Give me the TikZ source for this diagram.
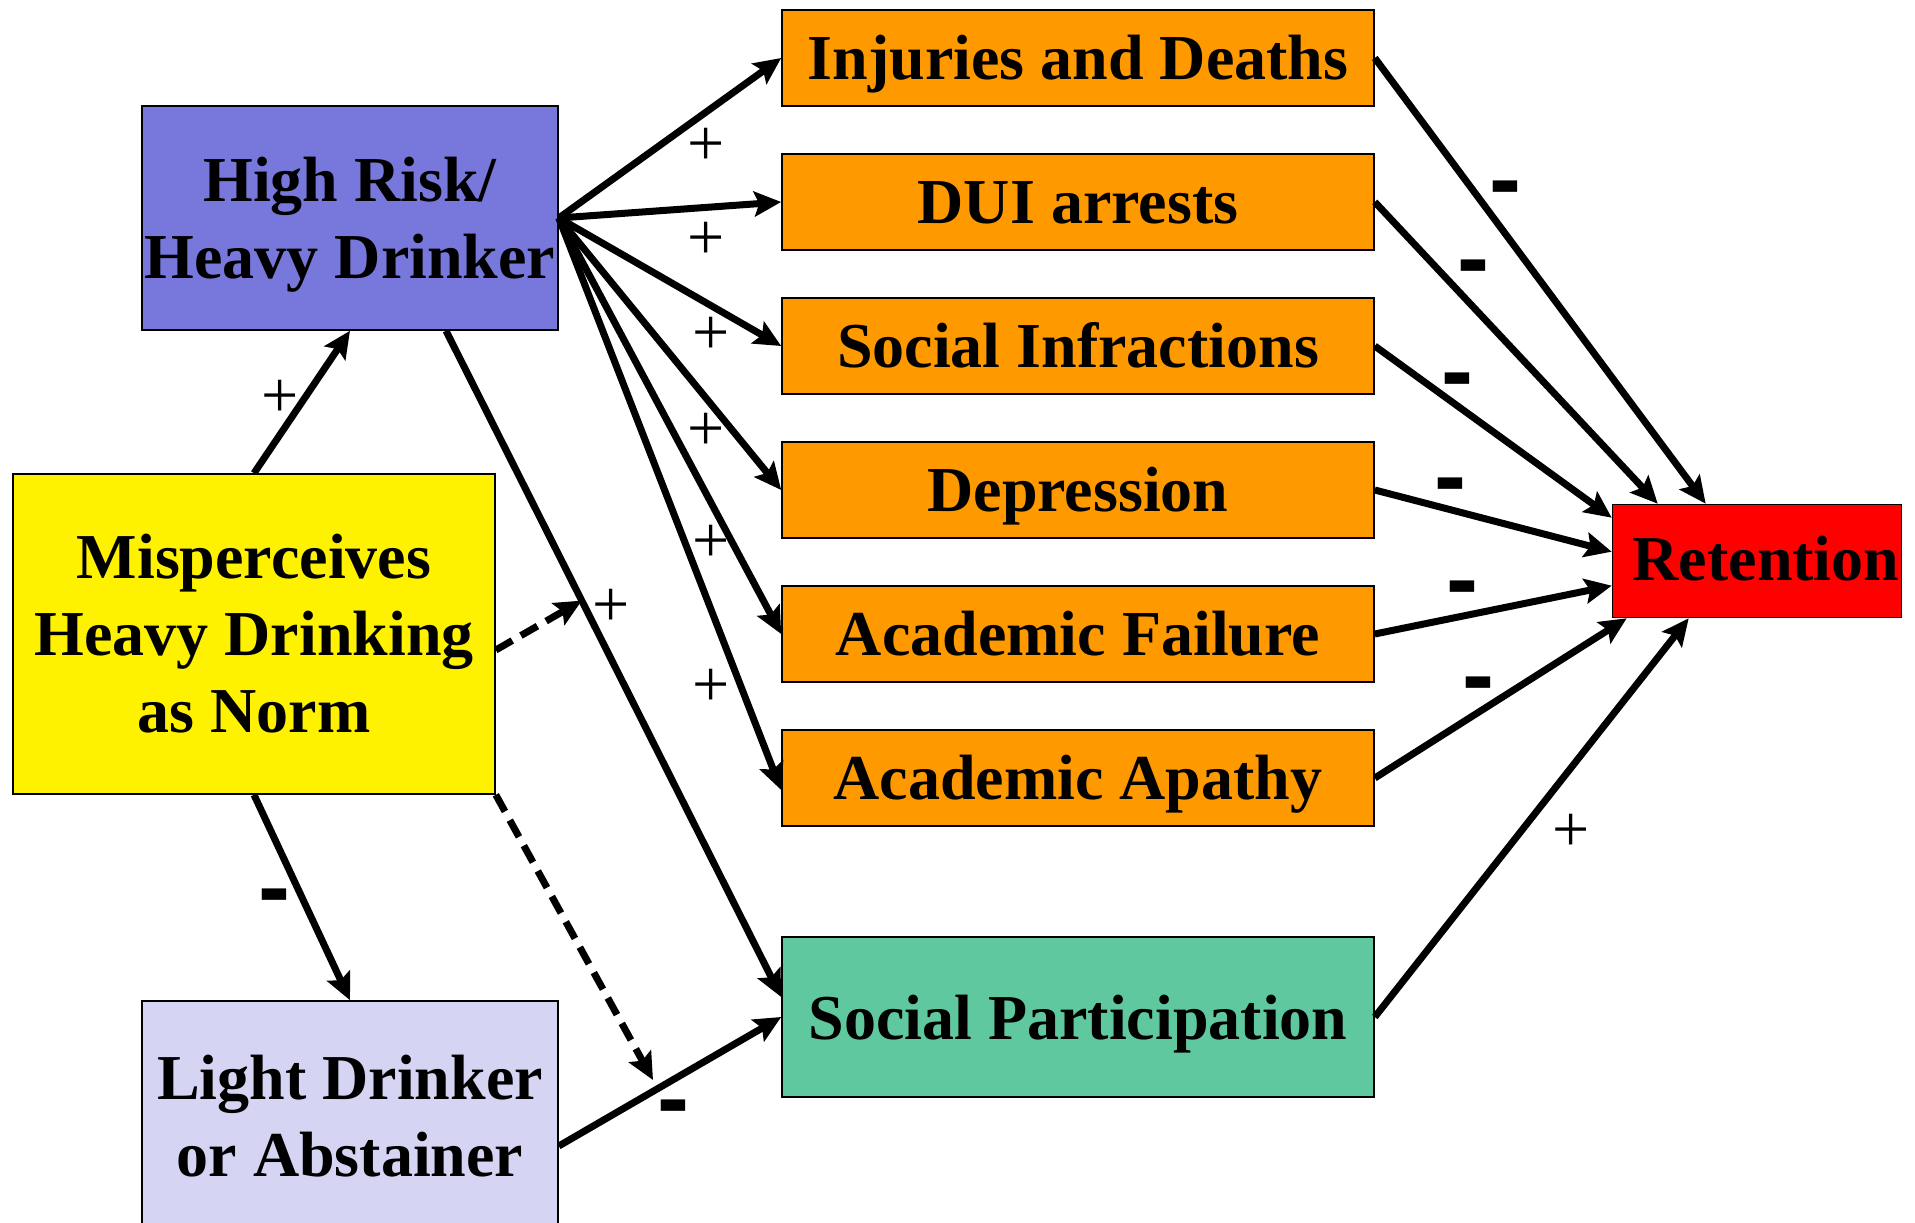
\documentclass[tikz,border=0pt]{standalone}
\usepackage{fontspec}
\setmainfont{Liberation Serif}
\newfontfamily\signsans{Liberation Sans}
\usetikzlibrary{arrows.meta,calc}
\definecolor{hrblue}{RGB}{120,120,220}
\definecolor{lightlav}{RGB}{213,213,243}
\definecolor{orangebox}{RGB}{255,153,0}
\definecolor{greenbox}{RGB}{96,200,158}
\begin{document}
\begin{tikzpicture}[x=1pt,y=-1pt,
  box/.style={draw=black,line width=1.6pt,inner sep=0pt,align=center,font=\fontsize{64}{77}\selectfont\bfseries},
  obox/.style={box,fill=orangebox,minimum width=592pt,minimum height=96pt,text height=46pt,text depth=3pt},
  arr/.style={line width=7pt,-{Stealth[length=27pt,width=25pt,inset=5pt]}},
  darr/.style={arr,dash pattern=on 19pt off 10pt},
  plus/.style={font=\fontsize{66}{66}\selectfont,inner sep=0pt},
  minus/.style={font=\signsans\bfseries\fontsize{96}{96}\selectfont,inner sep=0pt,yshift=-10pt}]
\clip (0,0) rectangle (1915,1223);
\fill[white] (0,0) rectangle (1915,1223);

% nodes
\node[box,fill=hrblue,minimum width=416pt,minimum height=224pt,text depth=0pt] (hr) at (350,218) {High Risk/\\Heavy Drinker};
\node[box,fill=yellow,minimum width=482pt,minimum height=320pt] (mis) at (254,634) {Misperceives\\Heavy Drinking\\as Norm};
\node[box,fill=lightlav,minimum width=416pt,minimum height=230pt] (light) at (350,1116) {Light Drinker\\or Abstainer};

\node[obox] (inj) at (1078,58) {Injuries and Deaths};
\node[obox] (dui) at (1078,202) {DUI arrests};
\node[obox] (si) at (1078,346) {Social Infractions};
\node[obox] (dep) at (1078,490) {Depression};
\node[obox] (af) at (1078,634) {Academic Failure};
\node[obox] (aa) at (1078,778) {Academic Apathy};
\node[box,fill=greenbox,minimum width=592pt,minimum height=160pt,text depth=0pt] (sp) at (1078,1017) {Social Participation};
\node[box,fill=red,minimum width=289pt,minimum height=113pt,text height=46pt,text depth=8pt] (ret) at (1757,561) {\hspace*{18pt}Retention};

% helper coordinates
\coordinate (hrb) at ($(hr.south)+(96,0)$);
\coordinate (spw) at ($(sp.west)+(0,-20)$);
\coordinate (d1) at ($(hrb)!0.405!(spw)$);
\coordinate (d2) at (653,1080);

% connectors from High Risk
\draw[arr] (hr.east) -- (inj.west);
\draw[arr] (hr.east) -- (dui.west);
\draw[arr] (hr.east) -- (si.west);
\draw[arr] (hr.east) -- (dep.west);
\draw[arr] (hr.east) -- (af.west);
\draw[arr] (hr.east) -- ($(aa.west)+(0,12)$);
\draw[arr] (hrb) -- (spw);

% from Misperceives
\draw[arr] (mis.north) -- (hr.south);
\draw[arr] (mis.south) -- (light.north);
\draw[darr] ($(mis.east)+(0,16)$) -- (d1);
\draw[darr] (mis.south east) -- (d2);

% light to social participation
\draw[arr] ($(light.east)+(0,30)$) -- (sp.west);

% to retention
\draw[arr] (inj.east) -- ($(ret.north west)+(94,0)$);
\draw[arr] (dui.east) -- ($(ret.north west)+(46,0)$);
\draw[arr] (si.east) -- ($(ret.north west)+(0,14)$);
\draw[arr] (dep.east) -- ($(ret.north west)+(0,48)$);
\draw[arr] (af.east) -- ($(ret.north west)+(0,82)$);
\draw[arr] (aa.east) -- ($(ret.south west)+(15,0)$);
\draw[arr] (sp.east) -- ($(ret.south west)+(77,0)$);

% plus labels
\node[plus] (p1) at (706,147) {+};
\node[plus] (p2) at (706,241) {+};
\node[plus] (p3) at (711,336) {+};
\node[plus] (p4) at (706,432) {+};
\node[plus] (p5) at (711,544) {+};
\node[plus] (p6) at (711,688) {+};
\node[plus] (p7) at (280,399) {+};
\node[plus] (p8) at (611,608) {+};
\node[plus] (p9) at (1571,833) {+};

% minus labels
\node[minus] (m1) at (274,894) {-};
\node[minus] (m2) at (673,1105) {-};
\node[minus] (m3) at (1505,186) {-};
\node[minus] (m4) at (1473,265) {-};
\node[minus] (m5) at (1457,378) {-};
\node[minus] (m6) at (1450,483) {-};
\node[minus] (m7) at (1462,586) {-};
\node[minus] (m8) at (1478,682) {-};
\end{tikzpicture}
\end{document}
